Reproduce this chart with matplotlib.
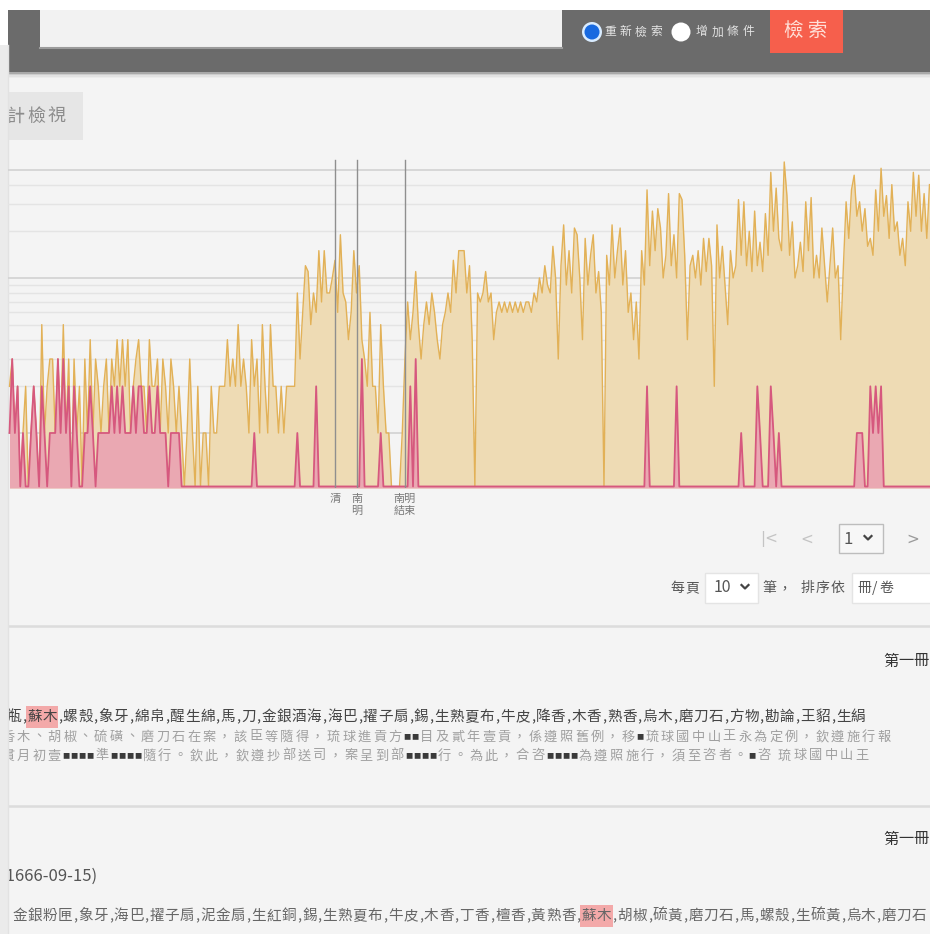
import numpy as np
import matplotlib
matplotlib.use('Agg')
import matplotlib.pyplot as plt
from matplotlib.patches import Rectangle, Circle
from matplotlib.transforms import blended_transform_factory

plt.rcParams['font.family'] = ['Noto Sans CJK TC', 'DejaVu Sans']

# yearly counts, 1515-1857 (all matching documents / documents with the highlighted term)
years = np.arange(1515, 1858)
count_all = [
    2, 3, 1, 2, 0, 1, 2, 0, 1, 2,
    1, 0, 5, 1, 2, 3, 3, 1, 3, 1,
    5, 1, 3, 0, 3, 1, 2, 0, 3, 1,
    4, 1, 3, 2, 1, 2, 3, 1, 3, 2,
    4, 2, 4, 2, 4, 1, 2, 3, 4, 2,
    2, 1, 4, 2, 2, 3, 1, 3, 2, 1,
    3, 2, 1, 2, 1, 0, 1, 3, 1, 0,
    2, 0, 1, 1, 0, 2, 1, 1, 2, 2,
    2, 4, 2, 3, 2, 5, 2, 3, 2, 1,
    4, 2, 3, 1, 5, 2, 1, 5, 2, 2,
    1, 2, 1, 2, 2, 2, 2, 8, 3, 6,
    12, 11, 5, 8, 6, 15, 7, 15, 8, 8,
    10, 13, 6, 19, 8, 7, 4, 6, 15, 8,
    12, 4, 3, 2, 6, 2, 2, 1, 5, 2,
    1, 1, 0, 0, 0, 0, 1, 3, 7, 4,
    6, 11, 5, 3, 5, 7, 5, 8, 6, 4,
    3, 5, 6, 8, 6, 13, 8, 15, 15, 15,
    8, 12, 4, 0, 8, 7, 8, 11, 7, 8,
    4, 6, 7, 6, 7, 6, 7, 6, 7, 6,
    7, 6, 7, 7, 6, 8, 7, 10, 8, 12,
    9, 8, 16, 10, 3, 12, 22, 9, 15, 8,
    21, 19, 10, 4, 18, 9, 14, 19, 8, 11,
    6, 0, 14, 9, 22, 10, 15, 21, 9, 15,
    6, 8, 4, 7, 3, 15, 9, 37, 12, 27,
    15, 28, 21, 10, 14, 35, 12, 19, 10, 35,
    32, 14, 4, 12, 14, 10, 15, 9, 18, 11,
    18, 12, 2, 22, 10, 16, 9, 5, 15, 10,
    12, 32, 14, 31, 12, 20, 11, 27, 12, 17,
    11, 26, 14, 48, 20, 38, 18, 15, 56, 34,
    14, 23, 10, 12, 17, 11, 31, 15, 33, 10,
    14, 10, 21, 12, 7, 12, 21, 10, 12, 4,
    12, 31, 18, 37, 46, 25, 31, 20, 28, 16,
    18, 14, 37, 20, 51, 25, 34, 18, 40, 20,
    23, 14, 18, 12, 31, 20, 48, 25, 46, 20,
    35, 18, 40,
]
count_term = [
    1, 3, 1, 2, 0, 1, 0, 0, 1, 2,
    1, 0, 2, 1, 0, 1, 1, 1, 3, 1,
    3, 1, 2, 0, 2, 1, 0, 0, 1, 1,
    2, 1, 0, 1, 1, 1, 1, 1, 2, 1,
    2, 1, 2, 1, 1, 1, 2, 1, 2, 2,
    1, 1, 2, 1, 1, 2, 1, 1, 1, 0,
    1, 1, 1, 1, 0, 0, 0, 0, 0, 0,
    0, 0, 0, 0, 0, 0, 0, 0, 0, 0,
    0, 0, 0, 0, 0, 0, 0, 0, 0, 0,
    0, 1, 0, 0, 0, 0, 0, 0, 0, 0,
    0, 0, 0, 0, 0, 0, 0, 1, 0, 0,
    0, 0, 0, 0, 2, 0, 0, 0, 0, 0,
    0, 0, 0, 0, 0, 0, 0, 0, 0, 0,
    0, 3, 0, 0, 0, 0, 0, 0, 1, 0,
    0, 0, 0, 0, 0, 0, 0, 0, 0, 2,
    0, 3, 0, 0, 0, 0, 0, 0, 0, 0,
    0, 0, 0, 0, 0, 0, 0, 0, 0, 0,
    0, 0, 0, 0, 0, 0, 0, 0, 0, 0,
    0, 0, 0, 0, 0, 0, 0, 0, 0, 0,
    0, 0, 0, 0, 0, 0, 0, 0, 0, 0,
    0, 0, 0, 0, 0, 0, 0, 0, 0, 0,
    0, 0, 0, 0, 0, 0, 0, 0, 0, 0,
    0, 0, 0, 0, 0, 0, 0, 0, 0, 0,
    0, 0, 0, 0, 0, 0, 0, 2, 0, 0,
    0, 0, 0, 0, 0, 0, 0, 0, 2, 0,
    0, 0, 0, 0, 0, 0, 0, 0, 0, 0,
    0, 0, 0, 0, 0, 0, 0, 0, 0, 0,
    0, 0, 1, 0, 0, 0, 0, 0, 2, 1,
    0, 0, 0, 2, 1, 0, 1, 0, 0, 0,
    0, 0, 0, 0, 0, 0, 0, 0, 0, 0,
    0, 0, 0, 0, 0, 0, 0, 0, 0, 0,
    0, 0, 0, 0, 0, 1, 1, 1, 0, 0,
    2, 1, 2, 1, 2, 0, 0, 0, 0, 0,
    0, 0, 0, 0, 0, 0, 0, 0, 0, 0,
    0, 0, 0,
]

event_years = [1636, 1644, 1662]
event_labels = ['清', '南\n明', '南明\n結束']

item_line = '瓶,蘇木,螺殼,象牙,綿帛,醒生綿,馬,刀,金銀酒海,海巴,擢子扇,錫,生熟夏布,牛皮,降香,木香,熟香,烏木,磨刀石,方物,勘論,王貂,生絹'
text_line2 = '香木、胡椒、硫磺、磨刀石在案，該臣等隨得，琉球進貢方■■目及貳年壹貢，係遵照舊例，移■琉球國中山王永為定例，欽遵施行報'
text_line3 = '貫月初壹■■■■準■■■■隨行。欽此，欽遵抄部送司，案呈到部■■■■行。為此，合咨■■■■為遵照施行，須至咨者。■咨 琉球國中山王'
item_line2 = '金銀粉匣,象牙,海巴,擢子扇,泥金扇,生紅銅,錫,生熟夏布,牛皮,木香,丁香,檀香,黃熟香,蘇木,胡椒,硫黃,磨刀石,馬,螺殼,生硫黃,烏木,磨刀石'
date_text = '(1666-09-15)'
volume_text = '第一冊'

W, H = 930, 934
fig = plt.figure(figsize=(W / 100, H / 100), dpi=100)
fig.patch.set_facecolor('#f4f4f4')

# page layer in pixel coordinates (y down)
bg = fig.add_axes([0, 0, 1, 1])
bg.set_xlim(0, W)
bg.set_ylim(H, 0)
bg.axis('off')


def box(x, y, w, h, color, ec='none', z=1, lw=1):
    bg.add_patch(Rectangle((x, y), w, h, facecolor=color, edgecolor=ec, lw=lw, zorder=z))


def put(x, y, s, size, color, adv, narrow=5.2, mark=None, z=3):
    cells = []
    for ch in s:
        if ch == '■':
            w = 8
        elif ord(ch) < 256:
            w = narrow
        else:
            w = adv
        cells.append((x, w, ch))
        x += w
    if mark and mark in s:
        k = s.index(mark)
        x0 = cells[k][0]
        x1 = cells[k + len(mark) - 1][0] + cells[k + len(mark) - 1][1]
        box(x0 - 1, y - 11, x1 - x0 + 2, 22, '#f3a9a9', z=2)
    for cx, w, ch in cells:
        if ch == '■':
            bg.text(cx + w / 2, y, ch, ha='center', va='center', fontsize=size * 0.55,
                    color='#3a3a3a', zorder=z)
        else:
            bg.text(cx + w / 2, y, ch, ha='center', va='center', fontsize=size,
                    color=color, zorder=z)


def chevron(x, y):
    bg.plot([x - 3.5, x, x + 3.5], [y - 2, y + 1.5, y - 2], color='#444', lw=1.6, zorder=4)


# header bar
box(0, 0, W, 10, 'white')
box(0, 10, W, 62, '#6b6b6b')
for i, c in enumerate(['#a9a9a9', '#cdcdcd', '#e2e2e2', '#ececec']):
    box(0, 72 + i * 1.5, W, 1.5, c)
box(40, 10, 522, 38, '#f2f2f2', z=2)
bg.plot([40, 562], [48, 48], color='#9c9c9c', lw=1.5, zorder=3)
bg.add_patch(Circle((592, 32), 10, facecolor='#d9ecff', edgecolor='none', zorder=3))
bg.add_patch(Circle((592, 32), 7.5, facecolor='#1769e0', edgecolor='none', zorder=4))
put(602, 32, '重新檢索', 8.5, '#e4e4e4', 15.5)
bg.add_patch(Circle((681, 32), 9.5, facecolor='white', edgecolor='none', zorder=3))
put(694, 32, '增加條件', 8.5, '#e4e4e4', 15.5)
box(770, 10, 73, 43, '#f65f4c', z=2)
bg.text(806, 30, '檢 索', ha='center', va='center', fontsize=14, color='#ffe0d8', zorder=3)

# stats tab
box(8, 92, 75, 48, '#e6e6e6')
put(6, 117, '計檢視', 13, '#8c8c8c', 20)

# left strip
box(0, 0, 8, 45, 'white', z=6)
box(0, 45, 8, H - 45, '#ebebeb', z=6)
bg.plot([8, 8], [45, H], color='#e2e2e2', lw=1, zorder=6)

# chart
top_px, bot_px, left_px = 155, 488, 8
ax = fig.add_axes([left_px / W, 1 - bot_px / H, (W - left_px) / W, (bot_px - top_px) / H])
ax.patch.set_alpha(0)
ax.set_yscale('log')
y_lo, y_hi = 0.4418, 62.1
ax.set_ylim(y_lo, y_hi)
ax.set_xlim(1514.44, 1857.19)
for s in ax.spines.values():
    s.set_visible(False)
ax.set_xticks([])
ax.set_yticks([])
ax.minorticks_off()

for v in list(range(1, 11)) + [20, 30, 40, 50]:
    major = v in (1, 10, 50)
    ax.axhline(v, color='#d2d2d2' if major else '#e4e4e4', lw=1.2 if major else 1.0, zorder=0)

floor = 0.452
a = np.maximum(np.array(count_all, float), floor)
t = np.maximum(np.array(count_term, float), floor)
ax.fill_between(years, y_lo, a, color='#eedbb4', lw=0, zorder=1)
ax.plot(years, a, color='#e2b157', lw=1.0, zorder=2)
ax.fill_between(years, y_lo, t, color='#ea9fb2', alpha=0.85, lw=0, zorder=3)
ax.plot(years, t, color='#d6587e', lw=1.3, zorder=4)

tr = blended_transform_factory(ax.transData, ax.transAxes)
for yr, lab in zip(event_years, event_labels):
    ax.axvline(yr, ymin=0, ymax=0.985, color='#8f8f8f', lw=1.0, zorder=5)
    ax.text(yr, -0.018, lab, transform=tr, ha='center', va='top', fontsize=8,
            color='#7a7a7a', linespacing=1.25, clip_on=False)

# pager
bg.text(769, 539, '|<', ha='center', va='center', fontsize=11, color='#c4c4c4', family='DejaVu Sans')
bg.text(807, 539, '<', ha='center', va='center', fontsize=11, color='#c4c4c4', family='DejaVu Sans')
box(839, 524, 44, 29, '#f7f7f7', ec='#bdbdbd', z=2)
bg.text(848, 539, '1', ha='center', va='center', fontsize=12, color='#555')
chevron(868, 538)
bg.text(913, 539, '>', ha='center', va='center', fontsize=11, color='#9a9a9a', family='DejaVu Sans')

put(670, 588, '每頁', 10, '#555', 15)
box(705, 573, 53, 30, 'white', ec='#e4e4e4', z=2)
bg.text(722, 588, '10', ha='center', va='center', fontsize=11.5, color='#555', zorder=3)
chevron(745, 587)
put(762, 588, '筆，', 10, '#555', 15)
put(800, 588, '排序依', 10, '#555', 15)
box(852, 573, 82, 30, 'white', ec='#e4e4e4', z=2)
put(857, 588, '冊/卷', 10, '#555', 14, narrow=8)

bg.plot([8, W], [626, 626], color='#dcdcdc', lw=1.8, zorder=2)
bg.plot([8, W], [806, 806], color='#dcdcdc', lw=1.8, zorder=2)

# first record
put(883, 661, volume_text, 11, '#333', 15.2)
put(6.6, 717, item_line, 10.5, '#444', 15.2, mark='蘇木')
put(0, 737, text_line2, 9.5, '#a0a0a0', 15.5)
put(0, 756, text_line3, 9.5, '#a0a0a0', 15.5)

# second record
put(883, 839, volume_text, 11, '#333', 15.2)
bg.text(1, 876, date_text, ha='left', va='center', fontsize=12, color='#555', zorder=3)
put(12, 916, item_line2, 10.5, '#666', 15.2, mark='蘇木')

fig.savefig('out.png', dpi=100, facecolor=fig.get_facecolor())
